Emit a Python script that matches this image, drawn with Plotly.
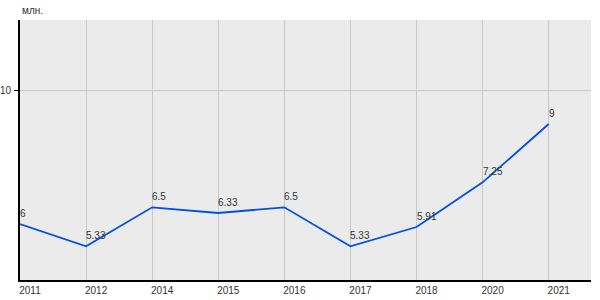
import plotly.graph_objects as go

years = ["2011", "2012", "2014", "2015", "2016", "2017", "2018", "2020", "2021"]
values = [6, 5.33, 6.5, 6.33, 6.5, 5.33, 5.91, 7.25, 9]
labels = ["6", "5.33", "6.5", "6.33", "6.5", "5.33", "5.91", "7.25", "9"]
y_ticks = [10]
unit = "млн."

font = "Liberation Sans, Arial, sans-serif"

fig = go.Figure(go.Scatter(
    x=years, y=values, mode="lines",
    line=dict(color="#0050e6", width=1.8), hoverinfo="skip",
))

anns = [dict(text=unit, xref="paper", yref="paper", x=0, y=1,
             xanchor="left", yanchor="bottom", yshift=2, showarrow=False,
             font=dict(family=font, size=10, color="#333333"))]
for i, (yv, t) in enumerate(zip(values, labels)):
    anns.append(dict(x=i, y=yv, xref="x", yref="y", text=t, xanchor="left",
                     yanchor="bottom", yshift=3, xshift=-2, showarrow=False,
                     font=dict(family=font, size=10, color="#333333")))

fig.update_layout(
    width=600, height=300, margin=dict(l=20, r=9, t=20, b=20),
    plot_bgcolor="#ebebeb", paper_bgcolor="white", showlegend=False,
    font=dict(family=font, size=10, color="#333333"),
    annotations=anns,
)
fig.update_xaxes(type="category", range=[0, 8.64], showgrid=True, gridcolor="#c8c8c8",
                 gridwidth=1, showline=True, linecolor="black", linewidth=2,
                 ticks="", ticklabelshift=10, ticklabelstandoff=0, zeroline=False,
                 automargin=False)
fig.update_yaxes(range=[4.32, 12.12], tickvals=y_ticks, showgrid=True, gridcolor="#c8c8c8",
                 showline=True, linecolor="black", linewidth=2, ticks="outside",
                 ticklen=4, tickcolor="black", ticklabelstandoff=1, zeroline=False,
                 automargin=False)

fig.write_html("out.html")
